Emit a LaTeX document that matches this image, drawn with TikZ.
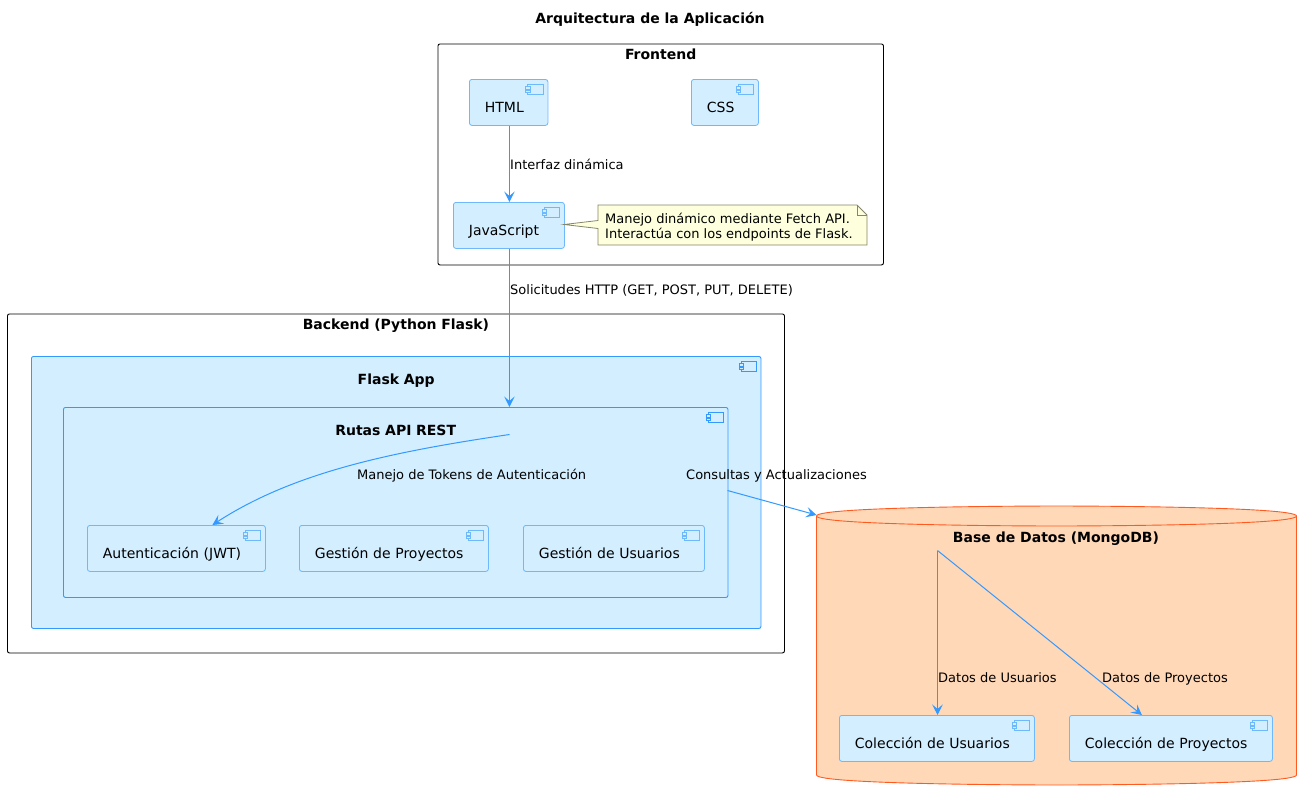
\documentclass[tikz,border=0pt]{standalone}
\usepackage{fontspec}
\setmainfont{DejaVu Sans}
\usetikzlibrary{arrows.meta}
\definecolor{compfill}{HTML}{D2EEFF}
\definecolor{compline}{HTML}{6DB9FB}
\definecolor{outerline}{HTML}{3399FF}
\definecolor{dbfill}{HTML}{FFD8B8}
\definecolor{dbline}{HTML}{FF5A1F}
\definecolor{notefill}{HTML}{FEFFDD}
\definecolor{noteline}{HTML}{85856A}
\providecommand{\titlefontsize}{\fontsize{14pt}{16pt}\selectfont\bfseries}
\providecommand{\textfontsize}{\fontsize{14pt}{16pt}\selectfont}
\providecommand{\labelfontsize}{\fontsize{13pt}{15.5pt}\selectfont}
% small component symbol in the top right corner of a box
\providecommand{\compicon}[2]{
    \draw[#2,fill=compfill,line width=.8pt,shift={(#1.north east)}] (-20.5,5) rectangle (-5,15.5);
    \draw[#2,fill=compfill,line width=.8pt,shift={(#1.north east)}] (-22.5,7.5) rectangle (-18,10);
    \draw[#2,fill=compfill,line width=.8pt,shift={(#1.north east)}] (-22.5,11) rectangle (-18,13.5);
}
\tikzset{
    compbox/.style={draw=compline,fill=compfill,rounded corners=2.5pt,line width=.8pt,anchor=north west,
        inner xsep=15.5pt,inner ysep=0pt,text width=#1*1pt-31pt,align=left,text height=33.3pt,text depth=12.7pt,font=\textfontsize},
    groupbox/.style={draw=black,rounded corners=2pt,line width=.9pt,anchor=north west,
        inner sep=0pt,text width=#1*1pt,align=center,font=\titlefontsize},
    innerbox/.style={groupbox=#1,draw=outerline,fill=compfill},
    flow/.style={draw=outerline,line width=1pt,-{Stealth[length=10.5pt,width=10.5pt,inset=4.5pt]}},
    flowlabel/.style={anchor=base west,inner sep=0pt,font=\labelfontsize},
}
\begin{document}
\begin{tikzpicture}[x=1pt,y=-1pt]
    \useasboundingbox (.5,.5) rectangle (1312.5,801.5);
    \node[anchor=base,inner sep=0pt,font=\titlefontsize] (title) at (650.5,23.7) {Arquitectura de la Aplicación};
    % Frontend
    \node[groupbox=445.5,text height=15.8pt,text depth=205.2pt] (frontend) at (438,44) {Frontend};
    \node[compbox=78.5] (html) at (469.5,79.5) {HTML};
    \node[compbox=67] (css) at (691.5,79.5) {CSS};
    \node[compbox=111] (js) at (453.5,202.5) {JavaScript};
    \compicon{html}{compline}
    \compicon{css}{compline}
    \compicon{js}{compline}
    \draw[noteline,fill=notefill,line width=.8pt] (598.5,205.5) -- (857.5,205.5) -- (867.5,215.5) -- (867.5,245.5) -- (598.5,245.5)
        -- (598.5,229) -- (564.5,225) -- (598.5,221) -- cycle;
    \draw[noteline,line width=.8pt] (857.5,205.5) -- (857.5,215.5) -- (867.5,215.5);
    \node[anchor=base west,inner sep=0pt,align=left,font=\labelfontsize] (jsnote) at (605.5,239) {Manejo dinámico mediante Fetch API.\\Interactúa con los endpoints de Flask.};
    % Backend
    \node[groupbox=777,text height=15.8pt,text depth=323.2pt] (backend) at (7.5,314) {Backend (Python Flask)};
    \node[innerbox=729.5,text height=27.7pt,text depth=244.3pt] (flask) at (31.5,356.5) {Flask App};
    \node[innerbox=664.5,text height=27.7pt,text depth=162.3pt] (rutas) at (63.5,407.5) {Rutas API REST};
    \compicon{flask}{outerline}
    \compicon{rutas}{outerline}
    \node[compbox=178] (aut) at (87.5,525.5) {Autenticación (JWT)};
    \node[compbox=189] (gproy) at (299.5,525.5) {Gestión de Proyectos};
    \node[compbox=181] (gusu) at (523.5,525.5) {Gestión de Usuarios};
    \compicon{aut}{compline}
    \compicon{gproy}{compline}
    \compicon{gusu}{compline}
    % Base de datos
    \draw[dbline,fill=dbfill,line width=.9pt] (817,516.5) .. controls (817,506.5) and (1057,506.5) .. (1057,506.5)
        .. controls (1057,506.5) and (1297,506.5) .. (1297,516.5) -- (1297,775.5)
        .. controls (1297,785.5) and (1057,785.5) .. (1057,785.5)
        .. controls (1057,785.5) and (817,785.5) .. (817,775.5) -- cycle;
    \draw[dbline,line width=.9pt] (817,516.5) .. controls (817,526.5) and (1057,526.5) .. (1057,526.5)
        .. controls (1057,526.5) and (1297,526.5) .. (1297,516.5);
    \node[anchor=base,inner sep=0pt,font=\titlefontsize] (db) at (1056.5,542.7) {Base de Datos (MongoDB)};
    \node[compbox=195] (colusu) at (839.5,715.5) {Colección de Usuarios};
    \node[compbox=203] (colproy) at (1069.5,715.5) {Colección de Proyectos};
    \compicon{colusu}{compline}
    \compicon{colproy}{compline}
    \coordinate (jsaxis) at ([xshift=.5pt]js.center);
    \coordinate (rutashub) at (510,435);
    \coordinate (rutasout) at (728,491);
    \coordinate (dbin) at (817,515.5);
    \coordinate (dbhub) at (938,551);
    % connectors
    \draw[flow] (jsaxis |- html.south) -- (jsaxis |- js.north);
    \draw[flow] (jsaxis |- js.south) -- (jsaxis |- rutas.north);
    \draw[flow] (rutashub) .. controls (395,452) and (295,472) .. ([xshift=36pt]aut.north);
    \draw[flow] (rutasout) -- (dbin);
    \draw[flow] (dbhub) -- (dbhub |- colusu.north);
    \draw[flow] (dbhub) -- ([xshift=-29pt]colproy.north);
    \node[flowlabel] (lhtml) at (510.5,169.8) {Interfaz dinámica};
    \node[flowlabel] (lhttp) at (510.5,294.8) {Solicitudes HTTP (GET, POST, PUT, DELETE)};
    \node[flowlabel] (ltoken) at (357.5,479.8) {Manejo de Tokens de Autenticación};
    \node[flowlabel] (lquery) at (686.5,479.8) {Consultas y Actualizaciones};
    \node[flowlabel] (lusu) at (938.5,682.5) {Datos de Usuarios};
    \node[flowlabel] (lproy) at (1102.5,682.5) {Datos de Proyectos};
\end{tikzpicture}
\end{document}
